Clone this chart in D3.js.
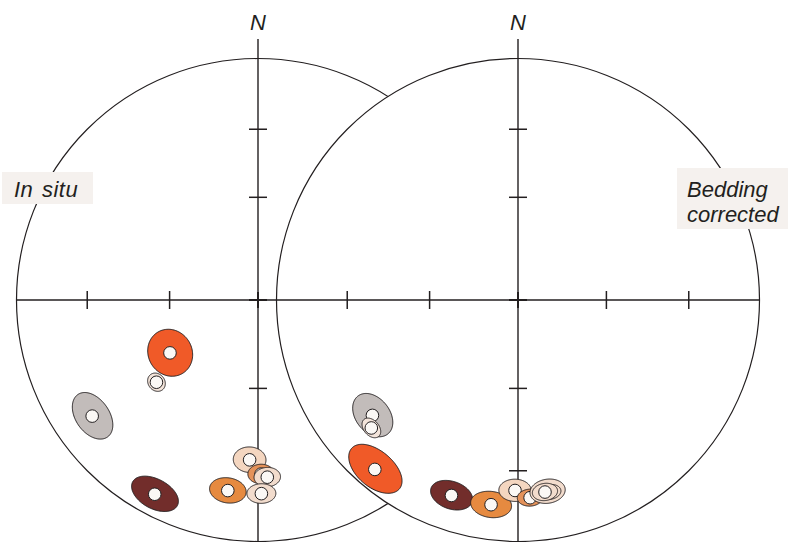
<!DOCTYPE html>
<html>
<head>
<meta charset="utf-8">
<script src="https://cdn.jsdelivr.net/npm/d3@7"></script>
<style>
  body { margin: 0; background: #fff; }
  text { font-family: "Liberation Sans", Arial, sans-serif; font-style: italic; fill: #231f20; }
</style>
</head>
<body>
<div id="chart"></div>
<script>
// site colours (one per site)
const siteNames = ["S1", "S2", "S3", "S4", "S5", "S6", "S7", "S8"];
const siteColors = ["#f05a28", "#c2bcba", "#722d2b", "#e68a40", "#f4d6c0", "#e4925a", "#f2dccd", "#f3e4da"];

// in situ directions (drawing order), open symbols = negative inclination
const sitesInSitu = ["S1", "S8", "S2", "S3", "S4", "S5", "S6", "S7", "S7"];
const decInSitu = [239, 231, 235, 208, 189, 183, 179, 177, 179];
const incInSitu = [-55, -45, -17.3, -9.8, -21.2, -34.1, -28.7, -27.4, -20.9];
const a95InSitu = [7.7, 3, 7, 6.5, 5.1, 4.85, 3.8, 3.8, 4];

// bedding corrected directions
const sitesTilt = ["S2", "S8", "S1", "S3", "S4", "S5", "S6", "S7", "S7", "S7"];
const decTilt = [231.6, 228.9, 220.2, 198.8, 187.5, 180.9, 176.5, 171.2, 170.5, 172];
const incTilt = [-24.1, -20.5, -9, -15.6, -15.6, -22.2, -19.1, -20.9, -20.5, -20.8];
const a95Tilt = [6.8, 3.1, 8, 5.8, 5.5, 4.5, 3.5, 4.9, 3, 3.5];

// tick marks on the axes (inclination)
const axisTicks = [60, 30];
const northTicks = [55, 30];

const width = 788, height = 542;
const R = 241.5;
const ink = "#231f20";

const color = d3.scaleOrdinal().domain(siteNames).range(siteColors);

const svg = d3.select("#chart")
    .append("svg")
    .attr("width", width)
    .attr("height", height)
    .style("background-color", "white");

const drawNet = (cx, cy, sites, dec, inc, a95) => {

    // equal-area net: lon = 180 - dec, lat = |inc|
    const proj = d3.geoAzimuthalEqualArea()
        .rotate([0, -90])
        .scale(R / Math.SQRT2)
        .translate([cx, cy]);
    const path = d3.geoPath(proj);
    const pt = (d, i) => proj([180 - d, Math.abs(i)]);

    const g = svg.append("g");

    // primitive circle, white so it hides what is behind
    g.append("circle")
        .attr("cx", cx).attr("cy", cy).attr("r", R)
        .attr("fill", "#fff")
        .attr("stroke", ink)
        .attr("stroke-width", 1.2);

    // axes
    g.append("line")
        .attr("x1", cx - R).attr("x2", cx + R)
        .attr("y1", cy).attr("y2", cy)
        .attr("stroke", ink).attr("stroke-width", 1.4);
    g.append("line")
        .attr("x1", cx).attr("x2", cx)
        .attr("y1", 39).attr("y2", cy + R)
        .attr("stroke", ink).attr("stroke-width", 1.4);

    // ticks on E, W and S
    [90, 270].forEach(az => {
        axisTicks.forEach(t => {
            const p = pt(az, t);
            g.append("line")
                .attr("x1", p[0]).attr("x2", p[0])
                .attr("y1", p[1] - 9).attr("y2", p[1] + 9)
                .attr("stroke", ink).attr("stroke-width", 1.5);
        });
    });
    const tickN = northTicks.map(t => pt(0, t));
    const tickS = axisTicks.map(t => pt(180, t));
    tickN.concat(tickS).forEach(p => {
        g.append("line")
            .attr("x1", p[0] - 9).attr("x2", p[0] + 9)
            .attr("y1", p[1]).attr("y2", p[1])
            .attr("stroke", ink).attr("stroke-width", 1.5);
    });
    // centre cross
    g.append("line")
        .attr("x1", cx - 9).attr("x2", cx + 9).attr("y1", cy).attr("y2", cy)
        .attr("stroke", ink).attr("stroke-width", 2);
    g.append("line")
        .attr("x1", cx).attr("x2", cx).attr("y1", cy - 8).attr("y2", cy + 8)
        .attr("stroke", ink).attr("stroke-width", 2);

    // north label
    g.append("text")
        .attr("x", cx).attr("y", 30)
        .attr("text-anchor", "middle")
        .style("font-size", "22px")
        .text("N");

    // confidence ovals + mean directions
    const data = dec.map((d, i) => ({ site: sites[i], dec: d, inc: inc[i], a95: a95[i] }));

    const sites_g = g.selectAll("g.site")
        .data(data)
        .enter().append("g")
        .attr("class", "site");

    sites_g.append("path")
        .attr("d", d => path(d3.geoCircle().center([180 - d.dec, Math.abs(d.inc)]).radius(d.a95)()))
        .attr("fill", d => color(d.site))
        .attr("stroke", ink)
        .attr("stroke-width", 1);

    sites_g.append("circle")
        .attr("cx", d => pt(d.dec, d.inc)[0])
        .attr("cy", d => pt(d.dec, d.inc)[1])
        .attr("r", 6.3)
        .attr("fill", "#fbf8f5")
        .attr("stroke", ink)
        .attr("stroke-width", 1);
}

drawNet(258, 300, sitesInSitu, decInSitu, incInSitu, a95InSitu);
drawNet(518, 300, sitesTilt, decTilt, incTilt, a95Tilt);

// labels in shaded boxes
svg.append("rect")
    .attr("x", 2).attr("y", 172).attr("width", 91).attr("height", 32)
    .attr("fill", "#f5f1ee");
svg.append("text")
    .attr("x", 14).attr("y", 197)
    .style("font-size", "22px")
    .style("letter-spacing", "0.5px")
    .style("word-spacing", "2px")
    .text("In situ");

svg.append("rect")
    .attr("x", 677).attr("y", 168).attr("width", 115).attr("height", 61)
    .attr("fill", "#f5f1ee");
svg.append("text")
    .attr("x", 687).attr("y", 197)
    .style("font-size", "22px")
    .text("Bedding");
svg.append("text")
    .attr("x", 687).attr("y", 222)
    .style("font-size", "22px")
    .text("corrected");
</script>
</body>
</html>
